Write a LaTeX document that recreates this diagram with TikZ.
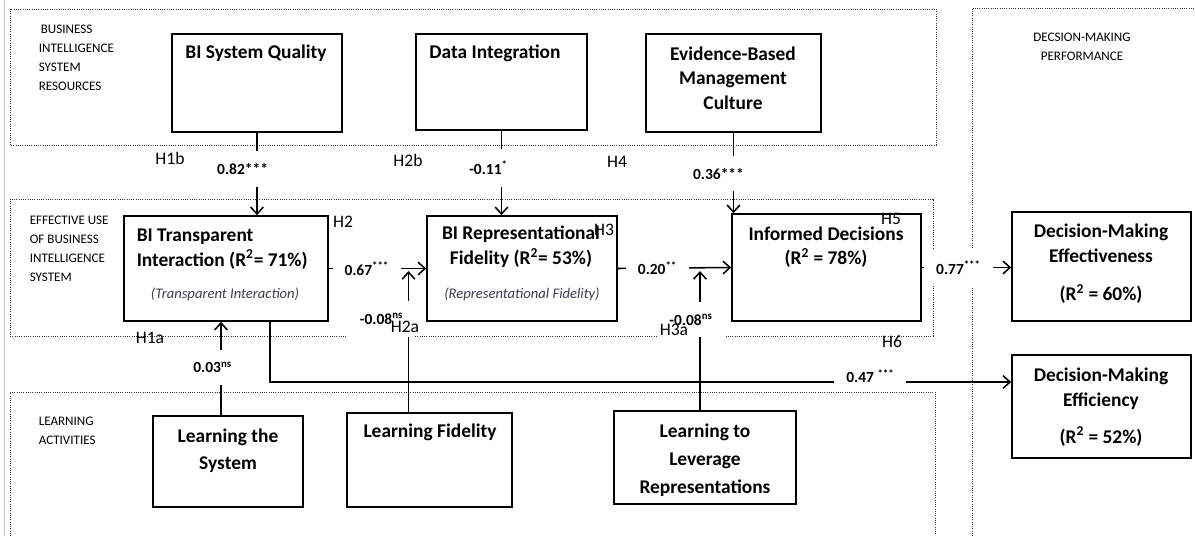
\documentclass[tikz,border=0pt]{standalone}
\usepackage{fontspec}
\setmainfont{Carlito}
\definecolor{subgray}{RGB}{58,62,82}
\usetikzlibrary{arrows.meta}

\begin{document}
\begin{tikzpicture}[
		x=0.025cm,y=-0.025cm,
		line width=1.1pt,
		box/.style={draw,rectangle,inner sep=0pt},
		title/.style={font=\fontsize{13.8}{17.5}\selectfont\bfseries,align=center,inner sep=0pt},
		sub/.style={font=\fontsize{10.4}{12}\selectfont\itshape,text=subgray,inner sep=0pt},
		val/.style={font=\fontsize{11}{13}\selectfont\bfseries,fill=white,inner xsep=.3cm,inner ysep=.3cm},
		hyp/.style={font=\fontsize{12.5}{14}\selectfont,inner sep=0pt},
		area/.style={font=\fontsize{9.3}{13.5}\selectfont,inner sep=0pt,anchor=north west,align=left},
		zone/.style={densely dotted,line width=.6pt,black!80},
		link/.style={-{Straight Barb[length=5pt,width=9pt]}},
		]
		\useasboundingbox(0,0)rectangle(1195,536);
		
		\draw[gray!45,line width=.5pt](4.5,0)--(4.5,536);
		\draw[zone](10,9)rectangle(936,145);
		\draw[zone](10,199)rectangle(933,336);
		\draw[zone](10,536)--(10,392)--(935,392)--(935,536);
		\draw[zone](972,536)--(972,8)--(1195,8);
		
		\node[area](ar1)at(38,24){\hspace*{1.5pt}BUSINESS\\INTELLIGENCE\\SYSTEM\\RESOURCES};
		\node[area](ar2)at(29,215){EFFECTIVE USE\\OF BUSINESS\\INTELLIGENCE\\SYSTEM};
		\node[area](ar3)at(38,416){LEARNING\\ACTIVITIES};
		\node[area,anchor=north,align=center](ar4)at(1082,32){DECSION-MAKING\\PERFORMANCE};
		
		\node[box,minimum width=4.25cm,minimum height=2.45cm](sq)at(257,83){};
		\node[box,minimum width=4.275cm,minimum height=2.4cm](di)at(501.5,82){};
		\node[box,minimum width=4.375cm,minimum height=2.45cm](ebm)at(733.5,83){};
		\node[box,minimum width=5.1cm,minimum height=2.625cm](ti)at(226,268.5){};
		\node[box,minimum width=4.75cm,minimum height=2.625cm](rf)at(522,268.5){};
		\node[box,minimum width=4.725cm,minimum height=2.675cm](id)at(826.5,267.5){};
		\node[box,minimum width=4.475cm,minimum height=2.725cm](dme)at(1101.5,266.5){};
		\node[box,minimum width=4.475cm,minimum height=2.575cm](dmf)at(1101.5,406.5){};
		\node[box,minimum width=3.75cm,minimum height=2.275cm](lts)at(228,461.5){};
		\node[box,minimum width=4.125cm,minimum height=2.35cm](lf)at(429.5,460){};
		\node[box,minimum width=4.55cm,minimum height=2.325cm](llr)at(705,457.5){};
		
		\node[title](sq-t)at(256,53){BI System Quality};
		\node[title](di-t)at(495,53){Data Integration};
		\node[title](ebm-t)at(733,78){Evidence-Based\\Management\\Culture};
		\node[title,anchor=west,align=left](ti-t)at(136,249){BI Transparent\\Interaction (R\textsuperscript{2}= 71\%)};
		\node[sub](ti-s)at(225,294){(Transparent Interaction)};
		\node[title](rf-t)at(521,247){BI Representational\\Fidelity (R\textsuperscript{2}= 53\%)};
		\node[sub](rf-s)at(522,294){(Representational Fidelity)};
		\node[title](id-t)at(826,247){Informed Decisions\\(R\textsuperscript{2} = 78\%)};
		\node[title](dme-t)at(1101,264){Decision-Making\\Effectiveness\\[10pt](R\textsuperscript{2} = 60\%)};
		\node[title](dmf-t)at(1101,407){Decision-Making\\Efficiency\\[9pt](R\textsuperscript{2} = 52\%)};
		\node[title](lts-t)at(228,451){Learning the\\[1.5pt]System};
		\node[title](lf-t)at(430,432){Learning Fidelity};
		\node[title](llr-t)at(705,460){Learning to\\[2.4pt]Leverage\\[2.4pt]Representations};
		
		\coordinate(m1)at(408.5,271);
		\coordinate(m2)at(700,271);
		\coordinate(j1)at([xshift=-.175cm]lts.north);
		\coordinate(j2)at([xshift=1.1cm]ti.south);
		
		\draw[link](sq.south)--node[val,pos=.44,xshift=-.36cm]{0.82***}(sq.south|-ti.north);
		\draw[link](di.south)--node[val,pos=.44,xshift=-.325cm]{-0.11\textsuperscript{*}}(di.south|-rf.north);
		\draw[link](ebm.south)--node[val,pos=.51,xshift=-.375cm]{0.36***}(ebm.south|-id.north);
		\draw[link](ti.east)--node[val,pos=.39]{0.67\textsuperscript{***}}(rf.west);
		\draw[link](rf.east)--node[val,pos=.35]{0.20\textsuperscript{**}}(id.west);
		\draw[link](id.east)--node[val,pos=.41]{0.77\textsuperscript{***}}(id.east-|dme.west);
		\draw[link](j2)|-node[val,pos=.905,yshift=.15cm,inner ysep=.2cm]{0.47 \textsuperscript{***}}([yshift=.6125cm]dmf.west);
		\draw[link](j1)--node[val,pos=.51,xshift=-.21cm]{0.03\textsuperscript{ns}}(j1|-ti.south);
		\draw[link](lf.north-|m1)--node[val,pos=.66,xshift=-.675cm]{-0.08\textsuperscript{ns}}(m1);
		\draw[link](llr.north-|m2)--node[val,pos=.65,xshift=-.225cm]{-0.08\textsuperscript{ns}}(m2);
		
		\node[hyp](h1b)at(170,158){H1b};
		\node[hyp](h2b)at(408,160){H2b};
		\node[hyp](h4)at(617,162){H4};
		\node[hyp](h2)at(343,222){H2};
		\node[hyp](h3)at(604,230){H3};
		\node[hyp](h5)at(891,219){H5};
		\node[hyp](h6)at(892,342){H6};
		\node[hyp](h1a)at(150,338){H1a};
		\node[hyp](h2a)at(405,327){H2a};
		\node[hyp](h3a)at(674,330){H3a};
\end{tikzpicture}
\end{document}
